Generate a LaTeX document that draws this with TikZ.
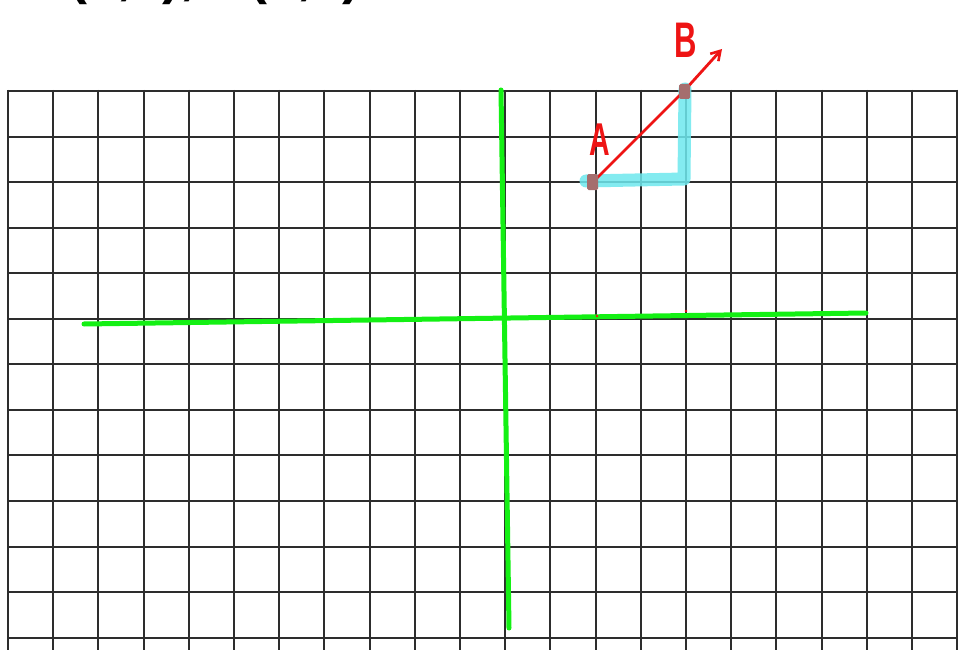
\documentclass[tikz,border=0pt]{standalone}
\usepackage{fontspec}
\setmainfont{Liberation Sans}
\usetikzlibrary{arrows.meta}
\definecolor{gridc}{RGB}{45,45,45}
\definecolor{axisgreen}{RGB}{20,240,20}
\definecolor{hlcyan}{RGB}{110,232,238}
\definecolor{penred}{RGB}{238,20,20}
\definecolor{markc}{RGB}{165,110,110}
\begin{document}
\begin{tikzpicture}[x=1pt,y=-1pt,
  gridline/.style={draw=gridc,line width=1.8pt},
  axisline/.style={draw=axisgreen,line width=5pt,line cap=round},
  highlight/.style={draw=hlcyan,draw opacity=0.85,line width=13pt,line cap=round,line join=round},
  redpen/.style={draw=penred,line width=2.8pt,line cap=round,line join=round},
  marker/.style={fill=markc,rounded corners=1.5pt},
  handlabel/.style={text=penred,xscale=0.62,inner sep=0pt},
  toptext/.style={font=\bfseries\fontsize{54}{54}\selectfont,anchor=base west,inner sep=0pt}]
\useasboundingbox (0,0) rectangle (958,650);
\clip (0,0) rectangle (958,650);
\fill[white] (0,0) rectangle (958,650);
% cut-off heading
\node[toptext] (head) at (30,-6) {A(2,3), B(4,5)};
% grid
\foreach \i in {0,...,21} {
  \pgfmathsetmacro\gx{round(8+45.2*\i)}
  \draw[gridline] (\gx,90) -- (\gx,651);
}
\foreach \j in {0,...,12} {
  \pgfmathsetmacro\gy{round(91+45.55*\j)}
  \draw[gridline] (7,\gy) -- (959,\gy);
}
% axes
\coordinate (xl) at (84,324);
\coordinate (xr) at (866,313);
\coordinate (yt) at (501,90);
\coordinate (yb) at (509,628);
\draw[axisline] (xl) -- (xr);
\draw[axisline] (yt) -- (yb);
% highlight
\coordinate (h1) at (586,181);
\coordinate (h2) at (684,179);
\coordinate (h3) at (685,89);
\draw[highlight] (h1) -- (h2) -- (h3);
% points and arrow
\coordinate (A) at (593,182);
\coordinate (B) at (684,91);
\coordinate (tip) at (722,49);
\draw[redpen,-{Straight Barb[length=9pt,width=11pt,line width=2.6pt]}] (A) -- (B) -- (tip);
\fill[marker] (587,174) rectangle (598,190);
\fill[marker] (679,84) rectangle (690,99);
% small red dots on x axis
\fill[penred] (597,316) circle (1.3);
\fill[penred] (686,311) circle (1.3);
% labels
\node[handlabel,font=\bfseries\fontsize{46}{46}\selectfont] (la) at (600,140) {A};
\node[handlabel,font=\bfseries\fontsize{50}{50}\selectfont] (lb) at (686,40) {B};
\end{tikzpicture}
\end{document}
